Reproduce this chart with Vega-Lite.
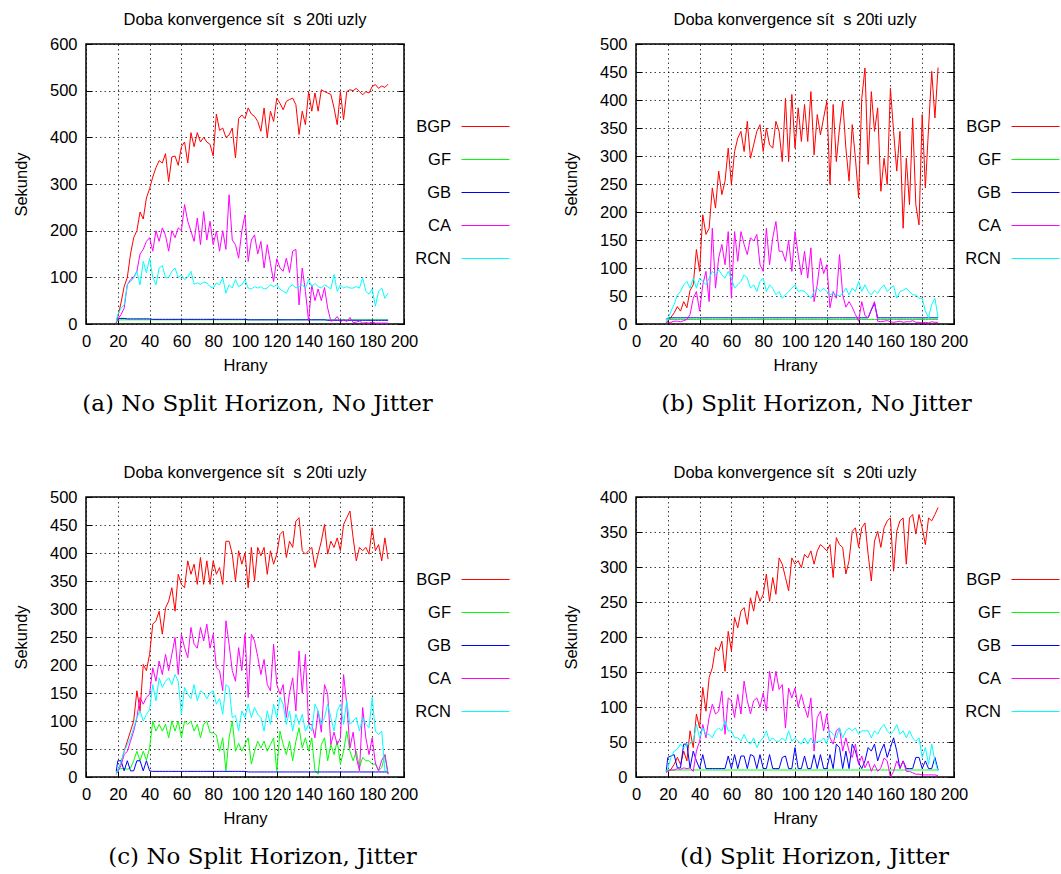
{
"$schema": "https://vega.github.io/schema/vega-lite/v6.json",
"background": "white",
"padding": {"left": 12, "top": 10, "right": 0, "bottom": 0},
"config": {
 "font": "Liberation Sans",
 "view": {"stroke": "black", "strokeWidth": 1.5},
 "axis": {"labelFont": "Liberation Sans", "labelFontSize": 16.5, "labelColor": "black", "titleFont": "Liberation Sans", "titleFontSize": 16.5, "titleFontWeight": "normal", "titleColor": "black", "domain": false, "ticks": true, "tickColor": "black", "tickSize": -6, "tickWidth": 1, "grid": true, "gridColor": "black", "gridDash": [1.5, 3], "gridOpacity": 0.75, "gridWidth": 1, "labelFlush": false, "labelOverlap": false},
 "axisX": {"labelPadding": 15, "titlePadding": 8},
 "axisY": {"labelPadding": 15, "titlePadding": 20},
 "legend": {"orient": "none", "legendX": 375, "legendY": 58, "title": null, "padding": 0, "symbolType": "stroke", "symbolSize": 2304, "symbolStrokeWidth": 1.8, "labelAlign": "right", "labelOffset": -59, "labelFont": "Liberation Sans", "labelFontSize": 16.5, "labelColor": "black", "rowPadding": -4.3},
 "title": {"font": "Liberation Sans", "fontSize": 16.5, "fontWeight": "normal", "color": "black"},
 "line": {"strokeWidth": 1}
},
"datasets": {
"a": [
{"x":19,"BGP":2,"GF":5,"GB":10,"CA":2,"RCN":5},
{"x":20,"BGP":15,"GF":8,"GB":12,"CA":10,"RCN":20},
{"x":22,"BGP":45,"GF":9,"GB":12,"CA":20,"RCN":34},
{"x":24,"BGP":80,"GF":9,"GB":12,"CA":34,"RCN":41},
{"x":26,"BGP":100,"GF":9,"GB":11,"CA":84,"RCN":84},
{"x":28,"BGP":150,"GF":9,"GB":11,"CA":95,"RCN":91},
{"x":30,"BGP":185,"GF":9,"GB":11,"CA":100,"RCN":99},
{"x":32,"BGP":200,"GF":9,"GB":11,"CA":113,"RCN":113},
{"x":34,"BGP":240,"GF":9,"GB":11,"CA":150,"RCN":84},
{"x":36,"BGP":225,"GF":9,"GB":11,"CA":160,"RCN":134},
{"x":38,"BGP":270,"GF":9,"GB":11,"CA":177,"RCN":110},
{"x":40,"BGP":290,"GF":9,"GB":11,"CA":185,"RCN":141},
{"x":42,"BGP":315,"GF":9,"GB":10,"CA":156,"RCN":100},
{"x":44,"BGP":335,"GF":9,"GB":10,"CA":200,"RCN":84},
{"x":46,"BGP":350,"GF":9,"GB":10,"CA":177,"RCN":120},
{"x":48,"BGP":345,"GF":9,"GB":10,"CA":206,"RCN":125},
{"x":50,"BGP":365,"GF":9,"GB":10,"CA":190,"RCN":99},
{"x":52,"BGP":305,"GF":9,"GB":10,"CA":156,"RCN":100},
{"x":54,"BGP":358,"GF":9,"GB":10,"CA":200,"RCN":113},
{"x":56,"BGP":360,"GF":9,"GB":10,"CA":185,"RCN":120},
{"x":58,"BGP":340,"GF":9,"GB":10,"CA":206,"RCN":100},
{"x":60,"BGP":380,"GF":9,"GB":10,"CA":200,"RCN":105},
{"x":62,"BGP":390,"GF":9,"GB":10,"CA":256,"RCN":95},
{"x":64,"BGP":345,"GF":9,"GB":10,"CA":220,"RCN":100},
{"x":66,"BGP":410,"GF":9,"GB":10,"CA":199,"RCN":113},
{"x":68,"BGP":380,"GF":9,"GB":10,"CA":177,"RCN":85},
{"x":70,"BGP":410,"GF":9,"GB":10,"CA":227,"RCN":88},
{"x":72,"BGP":390,"GF":9,"GB":10,"CA":170,"RCN":85},
{"x":74,"BGP":400,"GF":9,"GB":10,"CA":241,"RCN":90},
{"x":76,"BGP":390,"GF":9,"GB":10,"CA":180,"RCN":88},
{"x":78,"BGP":385,"GF":9,"GB":10,"CA":220,"RCN":80},
{"x":80,"BGP":360,"GF":9,"GB":10,"CA":170,"RCN":77},
{"x":82,"BGP":450,"GF":9,"GB":10,"CA":199,"RCN":88},
{"x":84,"BGP":415,"GF":9,"GB":10,"CA":156,"RCN":84},
{"x":86,"BGP":420,"GF":9,"GB":10,"CA":200,"RCN":99},
{"x":88,"BGP":400,"GF":9,"GB":10,"CA":160,"RCN":66},
{"x":90,"BGP":405,"GF":9,"GB":10,"CA":277,"RCN":84},
{"x":92,"BGP":420,"GF":9,"GB":10,"CA":180,"RCN":77},
{"x":94,"BGP":356,"GF":9,"GB":10,"CA":170,"RCN":95},
{"x":96,"BGP":440,"GF":9,"GB":10,"CA":141,"RCN":80},
{"x":98,"BGP":448,"GF":9,"GB":10,"CA":200,"RCN":84},
{"x":100,"BGP":440,"GF":9,"GB":10,"CA":234,"RCN":95},
{"x":102,"BGP":463,"GF":9,"GB":9,"CA":134,"RCN":77},
{"x":104,"BGP":450,"GF":9,"GB":9,"CA":180,"RCN":75},
{"x":106,"BGP":445,"GF":9,"GB":9,"CA":191,"RCN":80},
{"x":108,"BGP":434,"GF":9,"GB":9,"CA":150,"RCN":77},
{"x":110,"BGP":413,"GF":9,"GB":9,"CA":177,"RCN":80},
{"x":112,"BGP":463,"GF":9,"GB":9,"CA":120,"RCN":75},
{"x":114,"BGP":400,"GF":9,"GB":9,"CA":170,"RCN":77},
{"x":116,"BGP":456,"GF":9,"GB":9,"CA":130,"RCN":84},
{"x":118,"BGP":434,"GF":9,"GB":9,"CA":91,"RCN":80},
{"x":120,"BGP":484,"GF":9,"GB":9,"CA":140,"RCN":84},
{"x":122,"BGP":473,"GF":9,"GB":9,"CA":120,"RCN":75},
{"x":124,"BGP":459,"GF":9,"GB":9,"CA":113,"RCN":70},
{"x":126,"BGP":477,"GF":9,"GB":9,"CA":141,"RCN":66},
{"x":128,"BGP":481,"GF":9,"GB":9,"CA":110,"RCN":80},
{"x":130,"BGP":484,"GF":9,"GB":9,"CA":156,"RCN":84},
{"x":132,"BGP":470,"GF":9,"GB":9,"CA":160,"RCN":77},
{"x":134,"BGP":406,"GF":9,"GB":9,"CA":41,"RCN":80},
{"x":136,"BGP":456,"GF":9,"GB":9,"CA":120,"RCN":84},
{"x":138,"BGP":427,"GF":9,"GB":9,"CA":70,"RCN":77},
{"x":140,"BGP":498,"GF":9,"GB":9,"CA":6,"RCN":95},
{"x":142,"BGP":456,"GF":9,"GB":9,"CA":84,"RCN":80},
{"x":144,"BGP":495,"GF":9,"GB":9,"CA":50,"RCN":87},
{"x":146,"BGP":456,"GF":9,"GB":9,"CA":75,"RCN":80},
{"x":148,"BGP":502,"GF":9,"GB":9,"CA":50,"RCN":77},
{"x":150,"BGP":498,"GF":9,"GB":9,"CA":78,"RCN":84},
{"x":152,"BGP":495,"GF":9,"GB":8,"CA":34,"RCN":80},
{"x":154,"BGP":492,"GF":9,"GB":8,"CA":6,"RCN":75},
{"x":156,"BGP":463,"GF":9,"GB":8,"CA":8,"RCN":106},
{"x":158,"BGP":427,"GF":9,"GB":8,"CA":16,"RCN":70},
{"x":160,"BGP":498,"GF":9,"GB":8,"CA":4,"RCN":84},
{"x":162,"BGP":438,"GF":9,"GB":8,"CA":10,"RCN":77},
{"x":164,"BGP":498,"GF":9,"GB":8,"CA":5,"RCN":80},
{"x":166,"BGP":502,"GF":9,"GB":8,"CA":14,"RCN":77},
{"x":168,"BGP":500,"GF":9,"GB":8,"CA":3,"RCN":77},
{"x":170,"BGP":505,"GF":9,"GB":8,"CA":4,"RCN":80},
{"x":172,"BGP":498,"GF":9,"GB":8,"CA":6,"RCN":77},
{"x":174,"BGP":491,"GF":9,"GB":8,"CA":2,"RCN":99},
{"x":176,"BGP":498,"GF":9,"GB":8,"CA":3,"RCN":70},
{"x":178,"BGP":495,"GF":9,"GB":8,"CA":2,"RCN":64},
{"x":180,"BGP":509,"GF":9,"GB":8,"CA":4,"RCN":75},
{"x":182,"BGP":513,"GF":9,"GB":8,"CA":2,"RCN":38},
{"x":184,"BGP":505,"GF":9,"GB":8,"CA":2,"RCN":70},
{"x":186,"BGP":510,"GF":9,"GB":8,"CA":2,"RCN":77},
{"x":188,"BGP":507,"GF":9,"GB":8,"CA":2,"RCN":55},
{"x":190,"BGP":514,"GF":9,"GB":8,"CA":2,"RCN":66}
],
"b": [
{"x":19,"BGP":2,"GF":5,"GB":8,"CA":2,"RCN":3},
{"x":20,"BGP":5,"GF":8,"GB":11,"CA":3,"RCN":8},
{"x":22,"BGP":12,"GF":8,"GB":11,"CA":3,"RCN":23},
{"x":24,"BGP":20,"GF":8,"GB":11,"CA":5,"RCN":35},
{"x":26,"BGP":31,"GF":8,"GB":11,"CA":5,"RCN":52},
{"x":28,"BGP":23,"GF":8,"GB":11,"CA":4,"RCN":58},
{"x":30,"BGP":40,"GF":8,"GB":11,"CA":6,"RCN":70},
{"x":32,"BGP":29,"GF":8,"GB":11,"CA":8,"RCN":76},
{"x":34,"BGP":60,"GF":8,"GB":11,"CA":17,"RCN":64},
{"x":36,"BGP":70,"GF":8,"GB":11,"CA":46,"RCN":82},
{"x":38,"BGP":133,"GF":8,"GB":11,"CA":58,"RCN":64},
{"x":40,"BGP":94,"GF":8,"GB":11,"CA":23,"RCN":82},
{"x":42,"BGP":195,"GF":8,"GB":11,"CA":70,"RCN":76},
{"x":44,"BGP":160,"GF":8,"GB":11,"CA":94,"RCN":70},
{"x":46,"BGP":171,"GF":8,"GB":11,"CA":40,"RCN":82},
{"x":48,"BGP":243,"GF":8,"GB":11,"CA":171,"RCN":94},
{"x":50,"BGP":207,"GF":8,"GB":11,"CA":64,"RCN":88},
{"x":52,"BGP":273,"GF":8,"GB":11,"CA":118,"RCN":97},
{"x":54,"BGP":231,"GF":8,"GB":11,"CA":142,"RCN":88},
{"x":56,"BGP":255,"GF":8,"GB":11,"CA":106,"RCN":82},
{"x":58,"BGP":314,"GF":8,"GB":11,"CA":165,"RCN":94},
{"x":60,"BGP":249,"GF":8,"GB":11,"CA":46,"RCN":82},
{"x":62,"BGP":308,"GF":8,"GB":11,"CA":165,"RCN":64},
{"x":64,"BGP":332,"GF":8,"GB":11,"CA":112,"RCN":70},
{"x":66,"BGP":344,"GF":8,"GB":11,"CA":165,"RCN":76},
{"x":68,"BGP":308,"GF":8,"GB":11,"CA":142,"RCN":88},
{"x":70,"BGP":362,"GF":8,"GB":11,"CA":124,"RCN":82},
{"x":72,"BGP":296,"GF":8,"GB":11,"CA":154,"RCN":64},
{"x":74,"BGP":320,"GF":8,"GB":11,"CA":148,"RCN":70},
{"x":76,"BGP":344,"GF":8,"GB":11,"CA":160,"RCN":58},
{"x":78,"BGP":356,"GF":8,"GB":11,"CA":106,"RCN":76},
{"x":80,"BGP":308,"GF":8,"GB":11,"CA":94,"RCN":82},
{"x":82,"BGP":350,"GF":8,"GB":11,"CA":171,"RCN":58},
{"x":84,"BGP":320,"GF":8,"GB":11,"CA":106,"RCN":70},
{"x":86,"BGP":314,"GF":8,"GB":11,"CA":154,"RCN":64},
{"x":88,"BGP":362,"GF":8,"GB":11,"CA":183,"RCN":52},
{"x":90,"BGP":344,"GF":8,"GB":11,"CA":130,"RCN":58},
{"x":92,"BGP":290,"GF":8,"GB":11,"CA":130,"RCN":46},
{"x":94,"BGP":403,"GF":8,"GB":11,"CA":112,"RCN":52},
{"x":96,"BGP":290,"GF":8,"GB":11,"CA":150,"RCN":58},
{"x":98,"BGP":410,"GF":8,"GB":11,"CA":94,"RCN":64},
{"x":100,"BGP":314,"GF":8,"GB":11,"CA":165,"RCN":70},
{"x":102,"BGP":386,"GF":8,"GB":11,"CA":124,"RCN":58},
{"x":104,"BGP":326,"GF":8,"GB":11,"CA":88,"RCN":60},
{"x":106,"BGP":392,"GF":8,"GB":11,"CA":130,"RCN":58},
{"x":108,"BGP":326,"GF":8,"GB":11,"CA":82,"RCN":52},
{"x":110,"BGP":415,"GF":8,"GB":11,"CA":136,"RCN":46},
{"x":112,"BGP":302,"GF":8,"GB":11,"CA":40,"RCN":58},
{"x":114,"BGP":374,"GF":8,"GB":11,"CA":70,"RCN":64},
{"x":116,"BGP":338,"GF":8,"GB":11,"CA":118,"RCN":58},
{"x":118,"BGP":368,"GF":8,"GB":11,"CA":90,"RCN":64},
{"x":120,"BGP":398,"GF":8,"GB":11,"CA":106,"RCN":58},
{"x":122,"BGP":249,"GF":8,"GB":11,"CA":29,"RCN":52},
{"x":124,"BGP":392,"GF":8,"GB":11,"CA":58,"RCN":55},
{"x":126,"BGP":290,"GF":8,"GB":11,"CA":46,"RCN":52},
{"x":128,"BGP":350,"GF":8,"GB":11,"CA":124,"RCN":50},
{"x":130,"BGP":398,"GF":8,"GB":11,"CA":52,"RCN":55},
{"x":132,"BGP":314,"GF":8,"GB":11,"CA":30,"RCN":64},
{"x":134,"BGP":255,"GF":8,"GB":11,"CA":40,"RCN":52},
{"x":136,"BGP":356,"GF":8,"GB":11,"CA":30,"RCN":64},
{"x":138,"BGP":296,"GF":8,"GB":11,"CA":17,"RCN":58},
{"x":140,"BGP":225,"GF":8,"GB":11,"CA":5,"RCN":76},
{"x":142,"BGP":403,"GF":8,"GB":11,"CA":40,"RCN":58},
{"x":144,"BGP":457,"GF":8,"GB":11,"CA":15,"RCN":70},
{"x":146,"BGP":285,"GF":8,"GB":11,"CA":11,"RCN":58},
{"x":148,"BGP":415,"GF":8,"GB":25,"CA":26,"RCN":52},
{"x":150,"BGP":344,"GF":8,"GB":37,"CA":40,"RCN":60},
{"x":152,"BGP":386,"GF":8,"GB":11,"CA":5,"RCN":55},
{"x":154,"BGP":237,"GF":8,"GB":11,"CA":4,"RCN":64},
{"x":156,"BGP":296,"GF":8,"GB":11,"CA":5,"RCN":70},
{"x":158,"BGP":249,"GF":8,"GB":11,"CA":6,"RCN":58},
{"x":160,"BGP":421,"GF":8,"GB":11,"CA":4,"RCN":64},
{"x":162,"BGP":344,"GF":8,"GB":11,"CA":3,"RCN":68},
{"x":164,"BGP":273,"GF":8,"GB":11,"CA":4,"RCN":46},
{"x":166,"BGP":344,"GF":8,"GB":11,"CA":5,"RCN":58},
{"x":168,"BGP":171,"GF":8,"GB":11,"CA":3,"RCN":60},
{"x":170,"BGP":296,"GF":8,"GB":11,"CA":4,"RCN":64},
{"x":172,"BGP":213,"GF":8,"GB":11,"CA":4,"RCN":58},
{"x":174,"BGP":368,"GF":8,"GB":11,"CA":6,"RCN":52},
{"x":176,"BGP":213,"GF":8,"GB":11,"CA":3,"RCN":52},
{"x":178,"BGP":177,"GF":8,"GB":11,"CA":3,"RCN":46},
{"x":180,"BGP":374,"GF":8,"GB":11,"CA":2,"RCN":46},
{"x":182,"BGP":243,"GF":8,"GB":11,"CA":3,"RCN":23},
{"x":184,"BGP":350,"GF":8,"GB":11,"CA":2,"RCN":11},
{"x":186,"BGP":451,"GF":8,"GB":11,"CA":4,"RCN":35},
{"x":188,"BGP":368,"GF":8,"GB":11,"CA":3,"RCN":46},
{"x":190,"BGP":458,"GF":8,"GB":11,"CA":3,"RCN":11}
],
"c": [
{"x":19,"BGP":5,"GF":11,"GB":10,"CA":5,"RCN":5},
{"x":20,"BGP":12,"GF":13,"GB":29,"CA":10,"RCN":12},
{"x":22,"BGP":25,"GF":15,"GB":29,"CA":20,"RCN":26},
{"x":24,"BGP":46,"GF":15,"GB":11,"CA":40,"RCN":46},
{"x":26,"BGP":64,"GF":14,"GB":29,"CA":46,"RCN":58},
{"x":28,"BGP":82,"GF":16,"GB":11,"CA":64,"RCN":70},
{"x":30,"BGP":100,"GF":29,"GB":11,"CA":82,"RCN":88},
{"x":32,"BGP":154,"GF":46,"GB":29,"CA":106,"RCN":106},
{"x":34,"BGP":118,"GF":29,"GB":29,"CA":142,"RCN":118},
{"x":36,"BGP":201,"GF":46,"GB":11,"CA":130,"RCN":100},
{"x":38,"BGP":190,"GF":30,"GB":29,"CA":142,"RCN":112},
{"x":40,"BGP":219,"GF":52,"GB":11,"CA":148,"RCN":120},
{"x":42,"BGP":273,"GF":100,"GB":10,"CA":195,"RCN":165},
{"x":44,"BGP":279,"GF":82,"GB":10,"CA":171,"RCN":136},
{"x":46,"BGP":296,"GF":94,"GB":10,"CA":207,"RCN":177},
{"x":48,"BGP":255,"GF":82,"GB":10,"CA":183,"RCN":160},
{"x":50,"BGP":302,"GF":94,"GB":10,"CA":219,"RCN":171},
{"x":52,"BGP":314,"GF":70,"GB":10,"CA":190,"RCN":177},
{"x":54,"BGP":338,"GF":100,"GB":10,"CA":219,"RCN":165},
{"x":56,"BGP":296,"GF":82,"GB":10,"CA":249,"RCN":183},
{"x":58,"BGP":362,"GF":100,"GB":10,"CA":183,"RCN":171},
{"x":60,"BGP":344,"GF":70,"GB":10,"CA":255,"RCN":112},
{"x":62,"BGP":338,"GF":100,"GB":10,"CA":231,"RCN":160},
{"x":64,"BGP":386,"GF":94,"GB":10,"CA":213,"RCN":148},
{"x":66,"BGP":362,"GF":100,"GB":10,"CA":267,"RCN":140},
{"x":68,"BGP":380,"GF":82,"GB":10,"CA":237,"RCN":165},
{"x":70,"BGP":344,"GF":94,"GB":10,"CA":230,"RCN":136},
{"x":72,"BGP":392,"GF":70,"GB":10,"CA":267,"RCN":154},
{"x":74,"BGP":344,"GF":94,"GB":10,"CA":243,"RCN":150},
{"x":76,"BGP":386,"GF":100,"GB":10,"CA":273,"RCN":140},
{"x":78,"BGP":344,"GF":79,"GB":10,"CA":230,"RCN":150},
{"x":80,"BGP":386,"GF":79,"GB":10,"CA":255,"RCN":154},
{"x":82,"BGP":362,"GF":75,"GB":10,"CA":195,"RCN":130},
{"x":84,"BGP":374,"GF":46,"GB":10,"CA":190,"RCN":140},
{"x":86,"BGP":344,"GF":70,"GB":10,"CA":154,"RCN":112},
{"x":88,"BGP":421,"GF":11,"GB":10,"CA":279,"RCN":165},
{"x":90,"BGP":421,"GF":70,"GB":10,"CA":237,"RCN":160},
{"x":92,"BGP":398,"GF":100,"GB":10,"CA":190,"RCN":106},
{"x":94,"BGP":350,"GF":46,"GB":10,"CA":171,"RCN":110},
{"x":96,"BGP":404,"GF":60,"GB":10,"CA":231,"RCN":82},
{"x":98,"BGP":380,"GF":46,"GB":10,"CA":190,"RCN":118},
{"x":100,"BGP":400,"GF":58,"GB":10,"CA":255,"RCN":106},
{"x":102,"BGP":338,"GF":70,"GB":9,"CA":142,"RCN":130},
{"x":104,"BGP":410,"GF":23,"GB":9,"CA":255,"RCN":106},
{"x":106,"BGP":350,"GF":46,"GB":9,"CA":243,"RCN":124},
{"x":108,"BGP":410,"GF":64,"GB":9,"CA":215,"RCN":112},
{"x":110,"BGP":395,"GF":52,"GB":9,"CA":183,"RCN":106},
{"x":112,"BGP":410,"GF":64,"GB":9,"CA":210,"RCN":82},
{"x":114,"BGP":362,"GF":46,"GB":9,"CA":165,"RCN":118},
{"x":116,"BGP":404,"GF":58,"GB":9,"CA":154,"RCN":94},
{"x":118,"BGP":380,"GF":70,"GB":9,"CA":237,"RCN":130},
{"x":120,"BGP":398,"GF":11,"GB":9,"CA":165,"RCN":106},
{"x":122,"BGP":433,"GF":82,"GB":9,"CA":148,"RCN":142},
{"x":124,"BGP":439,"GF":58,"GB":9,"CA":165,"RCN":130},
{"x":126,"BGP":392,"GF":40,"GB":9,"CA":106,"RCN":94},
{"x":128,"BGP":421,"GF":64,"GB":9,"CA":150,"RCN":118},
{"x":130,"BGP":410,"GF":29,"GB":9,"CA":177,"RCN":82},
{"x":132,"BGP":457,"GF":64,"GB":9,"CA":118,"RCN":112},
{"x":134,"BGP":463,"GF":88,"GB":9,"CA":225,"RCN":94},
{"x":136,"BGP":404,"GF":52,"GB":9,"CA":150,"RCN":112},
{"x":138,"BGP":398,"GF":70,"GB":9,"CA":219,"RCN":82},
{"x":140,"BGP":404,"GF":46,"GB":9,"CA":94,"RCN":94},
{"x":142,"BGP":410,"GF":70,"GB":9,"CA":94,"RCN":82},
{"x":144,"BGP":374,"GF":11,"GB":9,"CA":70,"RCN":130},
{"x":146,"BGP":398,"GF":5,"GB":9,"CA":118,"RCN":118},
{"x":148,"BGP":421,"GF":58,"GB":9,"CA":80,"RCN":94},
{"x":150,"BGP":451,"GF":70,"GB":9,"CA":165,"RCN":106},
{"x":152,"BGP":398,"GF":29,"GB":9,"CA":148,"RCN":130},
{"x":154,"BGP":421,"GF":58,"GB":9,"CA":58,"RCN":106},
{"x":156,"BGP":410,"GF":40,"GB":9,"CA":80,"RCN":82},
{"x":158,"BGP":427,"GF":64,"GB":9,"CA":58,"RCN":118},
{"x":160,"BGP":404,"GF":23,"GB":9,"CA":70,"RCN":130},
{"x":162,"BGP":451,"GF":46,"GB":9,"CA":183,"RCN":94},
{"x":164,"BGP":463,"GF":82,"GB":9,"CA":130,"RCN":136},
{"x":166,"BGP":475,"GF":46,"GB":9,"CA":52,"RCN":94},
{"x":168,"BGP":427,"GF":29,"GB":9,"CA":80,"RCN":100},
{"x":170,"BGP":386,"GF":46,"GB":9,"CA":35,"RCN":106},
{"x":172,"BGP":410,"GF":17,"GB":9,"CA":11,"RCN":82},
{"x":174,"BGP":404,"GF":35,"GB":9,"CA":124,"RCN":106},
{"x":176,"BGP":410,"GF":29,"GB":9,"CA":70,"RCN":94},
{"x":178,"BGP":398,"GF":29,"GB":9,"CA":40,"RCN":88},
{"x":180,"BGP":445,"GF":23,"GB":9,"CA":70,"RCN":142},
{"x":182,"BGP":404,"GF":23,"GB":9,"CA":25,"RCN":82},
{"x":184,"BGP":415,"GF":11,"GB":9,"CA":11,"RCN":76},
{"x":186,"BGP":386,"GF":17,"GB":9,"CA":30,"RCN":82},
{"x":188,"BGP":427,"GF":40,"GB":9,"CA":40,"RCN":11},
{"x":190,"BGP":389,"GF":5,"GB":9,"CA":5,"RCN":11}
],
"d": [
{"x":19,"BGP":8,"GF":8,"GB":8,"CA":6,"RCN":8},
{"x":20,"BGP":9,"GF":10,"GB":28,"CA":8,"RCN":12},
{"x":22,"BGP":11,"GF":10,"GB":30,"CA":10,"RCN":28},
{"x":24,"BGP":18,"GF":10,"GB":32,"CA":10,"RCN":37},
{"x":26,"BGP":28,"GF":10,"GB":13,"CA":12,"RCN":40},
{"x":28,"BGP":18,"GF":10,"GB":13,"CA":11,"RCN":47},
{"x":30,"BGP":37,"GF":10,"GB":47,"CA":13,"RCN":42},
{"x":32,"BGP":23,"GF":10,"GB":47,"CA":12,"RCN":47},
{"x":34,"BGP":66,"GF":10,"GB":13,"CA":13,"RCN":47},
{"x":36,"BGP":42,"GF":10,"GB":37,"CA":8,"RCN":51},
{"x":38,"BGP":90,"GF":10,"GB":23,"CA":37,"RCN":75},
{"x":40,"BGP":70,"GF":10,"GB":12,"CA":51,"RCN":56},
{"x":42,"BGP":128,"GF":10,"GB":32,"CA":75,"RCN":70},
{"x":44,"BGP":94,"GF":10,"GB":12,"CA":56,"RCN":61},
{"x":46,"BGP":142,"GF":10,"GB":12,"CA":85,"RCN":61},
{"x":48,"BGP":156,"GF":10,"GB":12,"CA":104,"RCN":56},
{"x":50,"BGP":185,"GF":10,"GB":12,"CA":90,"RCN":66},
{"x":52,"BGP":180,"GF":10,"GB":12,"CA":94,"RCN":70},
{"x":54,"BGP":194,"GF":10,"GB":12,"CA":123,"RCN":66},
{"x":56,"BGP":151,"GF":10,"GB":12,"CA":61,"RCN":80},
{"x":58,"BGP":208,"GF":10,"GB":30,"CA":113,"RCN":66},
{"x":60,"BGP":180,"GF":10,"GB":12,"CA":109,"RCN":66},
{"x":62,"BGP":228,"GF":10,"GB":32,"CA":85,"RCN":56},
{"x":64,"BGP":213,"GF":10,"GB":12,"CA":118,"RCN":56},
{"x":66,"BGP":237,"GF":10,"GB":30,"CA":90,"RCN":51},
{"x":68,"BGP":242,"GF":10,"GB":30,"CA":137,"RCN":61},
{"x":70,"BGP":218,"GF":10,"GB":12,"CA":109,"RCN":51},
{"x":72,"BGP":256,"GF":10,"GB":32,"CA":90,"RCN":47},
{"x":74,"BGP":237,"GF":10,"GB":30,"CA":109,"RCN":56},
{"x":76,"BGP":266,"GF":10,"GB":12,"CA":113,"RCN":42},
{"x":78,"BGP":251,"GF":10,"GB":32,"CA":100,"RCN":51},
{"x":80,"BGP":261,"GF":10,"GB":12,"CA":120,"RCN":56},
{"x":82,"BGP":290,"GF":10,"GB":12,"CA":94,"RCN":66},
{"x":84,"BGP":251,"GF":10,"GB":32,"CA":151,"RCN":51},
{"x":86,"BGP":285,"GF":10,"GB":12,"CA":123,"RCN":56},
{"x":88,"BGP":261,"GF":10,"GB":12,"CA":151,"RCN":51},
{"x":90,"BGP":313,"GF":10,"GB":12,"CA":125,"RCN":51},
{"x":92,"BGP":304,"GF":10,"GB":28,"CA":132,"RCN":56},
{"x":94,"BGP":285,"GF":10,"GB":30,"CA":70,"RCN":51},
{"x":96,"BGP":266,"GF":10,"GB":12,"CA":127,"RCN":66},
{"x":98,"BGP":313,"GF":10,"GB":12,"CA":113,"RCN":51},
{"x":100,"BGP":304,"GF":10,"GB":42,"CA":127,"RCN":56},
{"x":102,"BGP":309,"GF":10,"GB":12,"CA":100,"RCN":51},
{"x":104,"BGP":299,"GF":10,"GB":12,"CA":118,"RCN":47},
{"x":106,"BGP":318,"GF":10,"GB":30,"CA":100,"RCN":56},
{"x":108,"BGP":313,"GF":10,"GB":12,"CA":85,"RCN":47},
{"x":110,"BGP":323,"GF":10,"GB":12,"CA":113,"RCN":56},
{"x":112,"BGP":304,"GF":10,"GB":32,"CA":37,"RCN":47},
{"x":114,"BGP":323,"GF":10,"GB":12,"CA":85,"RCN":51},
{"x":116,"BGP":332,"GF":10,"GB":32,"CA":94,"RCN":51},
{"x":118,"BGP":328,"GF":10,"GB":12,"CA":66,"RCN":56},
{"x":120,"BGP":323,"GF":10,"GB":12,"CA":90,"RCN":47},
{"x":122,"BGP":332,"GF":10,"GB":32,"CA":56,"RCN":66},
{"x":124,"BGP":285,"GF":10,"GB":12,"CA":47,"RCN":61},
{"x":126,"BGP":342,"GF":10,"GB":47,"CA":66,"RCN":56},
{"x":128,"BGP":332,"GF":10,"GB":42,"CA":70,"RCN":70},
{"x":130,"BGP":328,"GF":10,"GB":12,"CA":37,"RCN":56},
{"x":132,"BGP":290,"GF":10,"GB":37,"CA":56,"RCN":66},
{"x":134,"BGP":309,"GF":10,"GB":12,"CA":37,"RCN":70},
{"x":136,"BGP":351,"GF":10,"GB":47,"CA":28,"RCN":66},
{"x":138,"BGP":356,"GF":10,"GB":37,"CA":47,"RCN":70},
{"x":140,"BGP":328,"GF":10,"GB":20,"CA":18,"RCN":61},
{"x":142,"BGP":356,"GF":10,"GB":12,"CA":30,"RCN":66},
{"x":144,"BGP":363,"GF":10,"GB":23,"CA":13,"RCN":66},
{"x":146,"BGP":318,"GF":10,"GB":42,"CA":23,"RCN":66},
{"x":148,"BGP":280,"GF":10,"GB":37,"CA":8,"RCN":56},
{"x":150,"BGP":337,"GF":10,"GB":47,"CA":18,"RCN":66},
{"x":152,"BGP":351,"GF":10,"GB":23,"CA":8,"RCN":61},
{"x":154,"BGP":328,"GF":10,"GB":37,"CA":13,"RCN":70},
{"x":156,"BGP":356,"GF":10,"GB":47,"CA":27,"RCN":75},
{"x":158,"BGP":366,"GF":10,"GB":28,"CA":23,"RCN":66},
{"x":160,"BGP":370,"GF":10,"GB":42,"CA":0,"RCN":61},
{"x":162,"BGP":294,"GF":10,"GB":56,"CA":8,"RCN":66},
{"x":164,"BGP":351,"GF":10,"GB":37,"CA":23,"RCN":75},
{"x":166,"BGP":366,"GF":10,"GB":12,"CA":13,"RCN":61},
{"x":168,"BGP":370,"GF":10,"GB":23,"CA":23,"RCN":66},
{"x":170,"BGP":304,"GF":10,"GB":12,"CA":8,"RCN":56},
{"x":172,"BGP":370,"GF":10,"GB":12,"CA":8,"RCN":66},
{"x":174,"BGP":375,"GF":10,"GB":12,"CA":6,"RCN":56},
{"x":176,"BGP":347,"GF":10,"GB":28,"CA":4,"RCN":51},
{"x":178,"BGP":375,"GF":10,"GB":28,"CA":4,"RCN":56},
{"x":180,"BGP":356,"GF":10,"GB":12,"CA":3,"RCN":28},
{"x":182,"BGP":332,"GF":10,"GB":23,"CA":3,"RCN":42},
{"x":184,"BGP":370,"GF":10,"GB":12,"CA":3,"RCN":18},
{"x":186,"BGP":366,"GF":10,"GB":12,"CA":3,"RCN":47},
{"x":188,"BGP":375,"GF":10,"GB":28,"CA":3,"RCN":23},
{"x":190,"BGP":385,"GF":10,"GB":10,"CA":2,"RCN":8}
]
},
"resolve": {"scale": {"color": "independent"}, "legend": {"color": "independent"}},
"columns": 2,
"spacing": {"row": 47, "column": 49},
"concat": [
{
 "title": {"text": "Doba konvergence sít\u00a0 s 20ti uzly", "anchor": "middle", "frame": "group", "baseline": "alphabetic", "offset": -5},
 "width": 318, "height": 280,
 "data": {"name": "a"},
 "transform": [{"fold": ["BGP","GF","GB","CA","RCN"], "as": ["s","v"]}],
 "resolve": {"axis": {"x": "independent", "y": "independent"}},
 "layer": [
  {"mark": {"type": "line", "strokeWidth": 1},
   "encoding": {
    "x": {"field": "x", "type": "quantitative", "scale": {"domain": [0,200], "nice": false}, "axis": {"values": [0,20,40,60,80,100,120,140,160,180,200], "title": "Hrany", "orient": "bottom"}},
    "y": {"field": "v", "type": "quantitative", "scale": {"domain": [0,600], "nice": false}, "axis": {"values": [0,100,200,300,400,500,600], "title": "Sekundy", "orient": "left"}},
    "color": {"field": "s", "type": "nominal", "sort": null, "scale": {"domain": ["BGP","GF","GB","CA","RCN"], "range": ["#ff0000","#00ff00","#0000ff","#ff00ff","#00ffff"]}}
   }},
  {"mark": {"type": "point", "opacity": 0},
   "encoding": {
    "x": {"field": "x", "type": "quantitative", "axis": {"orient": "bottom", "title": "(a) No Split Horizon, No Jitter", "labels": false, "ticks": false, "grid": false, "titleFont": "DejaVu Serif", "titleFontSize": 23, "titleBaseline": "alphabetic", "titlePadding": 86, "titleX": 171}},
    "y": {"field": "v", "type": "quantitative", "axis": {"orient": "right", "values": [0,100,200,300,400,500,600], "labels": false, "grid": false, "title": null}}
   }}
 ]
},
{
 "title": {"text": "Doba konvergence sít\u00a0 s 20ti uzly", "anchor": "middle", "frame": "group", "baseline": "alphabetic", "offset": -5},
 "width": 318, "height": 280,
 "data": {"name": "b"},
 "transform": [{"fold": ["BGP","GF","GB","CA","RCN"], "as": ["s","v"]}],
 "resolve": {"axis": {"x": "independent", "y": "independent"}},
 "layer": [
  {"mark": {"type": "line", "strokeWidth": 1},
   "encoding": {
    "x": {"field": "x", "type": "quantitative", "scale": {"domain": [0,200], "nice": false}, "axis": {"values": [0,20,40,60,80,100,120,140,160,180,200], "title": "Hrany", "orient": "bottom"}},
    "y": {"field": "v", "type": "quantitative", "scale": {"domain": [0,500], "nice": false}, "axis": {"values": [0,50,100,150,200,250,300,350,400,450,500], "title": "Sekundy", "orient": "left"}},
    "color": {"field": "s", "type": "nominal", "sort": null, "scale": {"domain": ["BGP","GF","GB","CA","RCN"], "range": ["#ff0000","#00ff00","#0000ff","#ff00ff","#00ffff"]}}
   }},
  {"mark": {"type": "point", "opacity": 0},
   "encoding": {
    "x": {"field": "x", "type": "quantitative", "axis": {"orient": "bottom", "title": "(b) Split Horizon, No Jitter", "labels": false, "ticks": false, "grid": false, "titleFont": "DejaVu Serif", "titleFontSize": 23, "titleBaseline": "alphabetic", "titlePadding": 86, "titleX": 180}},
    "y": {"field": "v", "type": "quantitative", "axis": {"orient": "right", "values": [0,50,100,150,200,250,300,350,400,450,500], "labels": false, "grid": false, "title": null}}
   }}
 ]
},
{
 "title": {"text": "Doba konvergence sít\u00a0 s 20ti uzly", "anchor": "middle", "frame": "group", "baseline": "alphabetic", "offset": -5},
 "width": 318, "height": 280,
 "data": {"name": "c"},
 "transform": [{"fold": ["BGP","GF","GB","CA","RCN"], "as": ["s","v"]}],
 "resolve": {"axis": {"x": "independent", "y": "independent"}},
 "layer": [
  {"mark": {"type": "line", "strokeWidth": 1},
   "encoding": {
    "x": {"field": "x", "type": "quantitative", "scale": {"domain": [0,200], "nice": false}, "axis": {"values": [0,20,40,60,80,100,120,140,160,180,200], "title": "Hrany", "orient": "bottom"}},
    "y": {"field": "v", "type": "quantitative", "scale": {"domain": [0,500], "nice": false}, "axis": {"values": [0,50,100,150,200,250,300,350,400,450,500], "title": "Sekundy", "orient": "left"}},
    "color": {"field": "s", "type": "nominal", "sort": null, "scale": {"domain": ["BGP","GF","GB","CA","RCN"], "range": ["#ff0000","#00ff00","#0000ff","#ff00ff","#00ffff"]}}
   }},
  {"mark": {"type": "point", "opacity": 0},
   "encoding": {
    "x": {"field": "x", "type": "quantitative", "axis": {"orient": "bottom", "title": "(c) No Split Horizon, Jitter", "labels": false, "ticks": false, "grid": false, "titleFont": "DejaVu Serif", "titleFontSize": 23, "titleBaseline": "alphabetic", "titlePadding": 86, "titleX": 176}},
    "y": {"field": "v", "type": "quantitative", "axis": {"orient": "right", "values": [0,50,100,150,200,250,300,350,400,450,500], "labels": false, "grid": false, "title": null}}
   }}
 ]
},
{
 "title": {"text": "Doba konvergence sít\u00a0 s 20ti uzly", "anchor": "middle", "frame": "group", "baseline": "alphabetic", "offset": -5},
 "width": 318, "height": 280,
 "data": {"name": "d"},
 "transform": [{"fold": ["BGP","GF","GB","CA","RCN"], "as": ["s","v"]}],
 "resolve": {"axis": {"x": "independent", "y": "independent"}},
 "layer": [
  {"mark": {"type": "line", "strokeWidth": 1},
   "encoding": {
    "x": {"field": "x", "type": "quantitative", "scale": {"domain": [0,200], "nice": false}, "axis": {"values": [0,20,40,60,80,100,120,140,160,180,200], "title": "Hrany", "orient": "bottom"}},
    "y": {"field": "v", "type": "quantitative", "scale": {"domain": [0,400], "nice": false}, "axis": {"values": [0,50,100,150,200,250,300,350,400], "title": "Sekundy", "orient": "left"}},
    "color": {"field": "s", "type": "nominal", "sort": null, "scale": {"domain": ["BGP","GF","GB","CA","RCN"], "range": ["#ff0000","#00ff00","#0000ff","#ff00ff","#00ffff"]}}
   }},
  {"mark": {"type": "point", "opacity": 0},
   "encoding": {
    "x": {"field": "x", "type": "quantitative", "axis": {"orient": "bottom", "title": "(d) Split Horizon, Jitter", "labels": false, "ticks": false, "grid": false, "titleFont": "DejaVu Serif", "titleFontSize": 23, "titleBaseline": "alphabetic", "titlePadding": 86, "titleX": 178}},
    "y": {"field": "v", "type": "quantitative", "axis": {"orient": "right", "values": [0,50,100,150,200,250,300,350,400], "labels": false, "grid": false, "title": null}}
   }}
 ]
}
]
}
